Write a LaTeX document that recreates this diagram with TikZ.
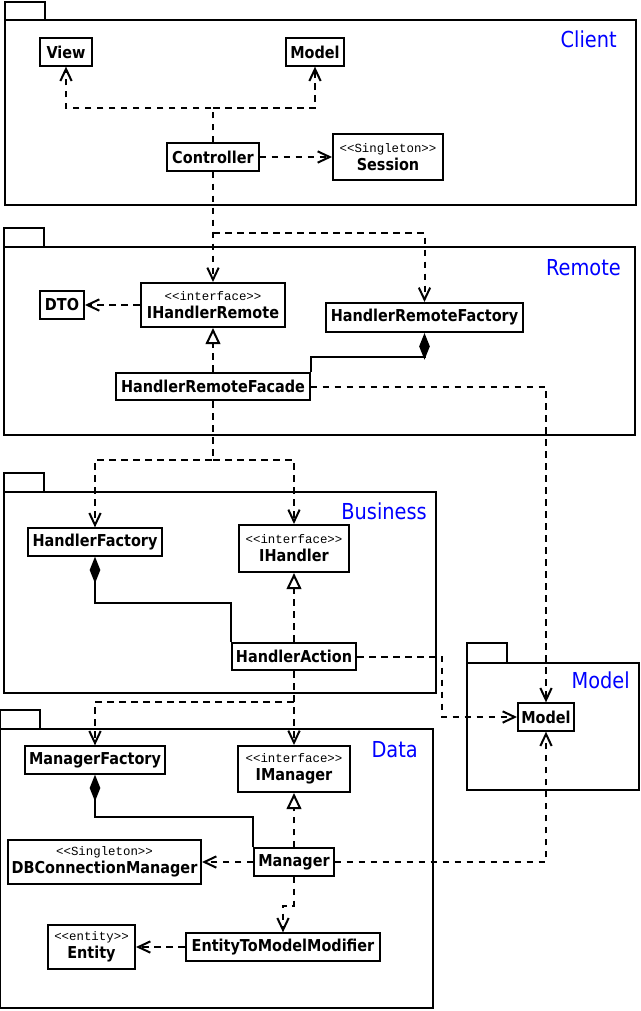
\documentclass[tikz,border=0pt]{standalone}
\usepackage{fontspec}
\setmainfont{DejaVu Sans}[FakeStretch=0.88]
\setmonofont{Liberation Mono}
\usetikzlibrary{arrows.meta}
\begin{document}
\begin{tikzpicture}[x=0.75pt, y=-0.75pt,
    cls/.style={draw, line width=1.5pt, fill=white, inner sep=1pt,
      minimum height=20.5pt, align=center,
      font=\bfseries\fontsize{12.3}{13.5}\selectfont},
    pkg/.style={draw, line width=1.5pt},
    pkglabel/.style={text=blue, anchor=east, inner sep=0pt,
      font=\fontsize{16.5}{18}\selectfont},
    dep/.style={line width=1.5pt, dash pattern=on 5pt off 4pt,
      -{Straight Barb[length=9pt, width=8.5pt]}},
    real/.style={line width=1.5pt, dash pattern=on 5pt off 4pt,
      -{Triangle[open, fill=white, length=12pt, width=11pt]}},
    comp/.style={line width=1.5pt, -{Diamond[length=20pt, width=8pt]}}]
  \useasboundingbox (0,0) rectangle (640,1011);
  \draw[pkg] (5,2) rectangle (45,20) (5,20) rectangle (636,205);
  \draw[pkg] (4,228) rectangle (44,247) (4,247) rectangle (635,435);
  \draw[pkg] (4,473) rectangle (44,492) (4,492) rectangle (436,693);
  \draw[pkg] (467,643) rectangle (507,663) (467,663) rectangle (639,790);
  \draw[pkg] (0,710) rectangle (40,729) (0,729) rectangle (433,1008);
  \node[pkglabel] (lclient) at (617,39) {Client};
  \node[pkglabel] (lremote) at (621,268) {Remote};
  \node[pkglabel] (lbusiness) at (427,511) {Business};
  \node[pkglabel] (lmodel) at (630,680) {Model};
  \node[pkglabel] (ldata) at (418,750) {Data};

  \node[cls, minimum width=38.3pt] (view) at (66,52) {View};
  \node[cls, minimum width=43.5pt] (cmodel) at (315,52) {Model};
  \node[cls, minimum width=68.3pt] (ctrl) at (213,157) {Controller};
  \node[cls, minimum width=82.5pt, minimum height=33.8pt] (sess) at (388,157)
    {{\ttfamily\mdseries\fontsize{9.3}{10}\selectfont <<Singleton>>}\\Session};
  \node[cls, minimum width=33pt] (dto) at (62,305) {DTO};
  \node[cls, minimum width=108pt, minimum height=33pt] (ihr) at (213,305)
    {{\ttfamily\mdseries\fontsize{9.3}{10}\selectfont <<interface>>}\\IHandlerRemote};
  \node[cls, minimum width=147.8pt, minimum height=21.8pt] (hrf) at (424.5,317.5) {HandlerRemoteFactory};
  \node[cls, minimum width=144.8pt] (hrfac) at (213,386.5) {HandlerRemoteFacade};
  \node[cls, minimum width=99.8pt] (hf) at (95,542) {HandlerFactory};
  \node[cls, minimum width=82.5pt, minimum height=35.3pt] (ih) at (294,548.5)
    {{\ttfamily\mdseries\fontsize{9.3}{10}\selectfont <<interface>>}\\IHandler};
  \node[cls, minimum width=93pt] (ha) at (294,656.5) {HandlerAction};
  \node[cls, minimum width=42pt] (model) at (546,717) {Model};
  \node[cls, minimum width=105pt] (mf) at (95,760) {ManagerFactory};
  \node[cls, minimum width=83.3pt, minimum height=34.5pt] (im) at (294,769)
    {{\ttfamily\mdseries\fontsize{9.3}{10}\selectfont <<interface>>}\\IManager};
  \node[cls, minimum width=144.8pt, minimum height=33pt] (dbc) at (104.5,862)
    {{\ttfamily\mdseries\fontsize{9.3}{10}\selectfont <<Singleton>>}\\DBConnectionManager};
  \node[cls, minimum width=59.3pt] (mgr) at (294,862) {Manager};
  \node[cls, minimum width=65.3pt, minimum height=32.3pt] (ent) at (91.5,947)
    {{\ttfamily\mdseries\fontsize{9.3}{10}\selectfont <<entity>>}\\Entity};
  \node[cls, minimum width=145.5pt] (etm) at (283,947) {EntityToModelModifier};

  \coordinate (jc) at (213,108);
  \coordinate (jr) at (213,233);
  \coordinate (jb) at (213,460);
  \coordinate (jh) at (442,656.5);
  \coordinate (jd) at (294,702);
  \draw[dep] (ctrl.north) -- (jc) -| (view.south);
  \draw[dep] (jc) -| (cmodel.south);
  \draw[dep] (ctrl.east) -- (sess.west);
  \draw[dep] (ctrl.south) -- (ihr.north);
  \draw[dep] (jr) -| (hrf.north);
  \draw[dep] (ihr.west) -- (dto.east);
  \draw[real] (hrfac.north) -- (ihr.south);
  \draw[comp] (hrfac.north east) -- ++(0,-15) -| (hrf.south);
  \draw[dep] (hrfac.east) -| (model.north);
  \draw[dep] (hrfac.south) -- (jb) -| (hf.north);
  \draw[dep] (jb) -| (ih.north);
  \draw[real] (ha.north) -- (ih.south);
  \draw[comp] (ha.north west) -- ++(0,-39) -| (hf.south);
  \draw[dep] (ha.east) -- (jh) |- (model.west);
  \draw[dep] (ha.south) -- (im.north);
  \draw[dep] (jd) -| (mf.north);
  \draw[real] (mgr.north) -- (im.south);
  \draw[comp] (mgr.north west) -- ++(0,-30) -| (mf.south);
  \draw[dep] (mgr.west) -- (dbc.east);
  \draw[dep] (mgr.east) -| (model.south);
  \draw[dep] (mgr.south) -- ++(0,29) -| (etm.north);
  \draw[dep] (etm.west) -- (ent.east);
\end{tikzpicture}
\end{document}
